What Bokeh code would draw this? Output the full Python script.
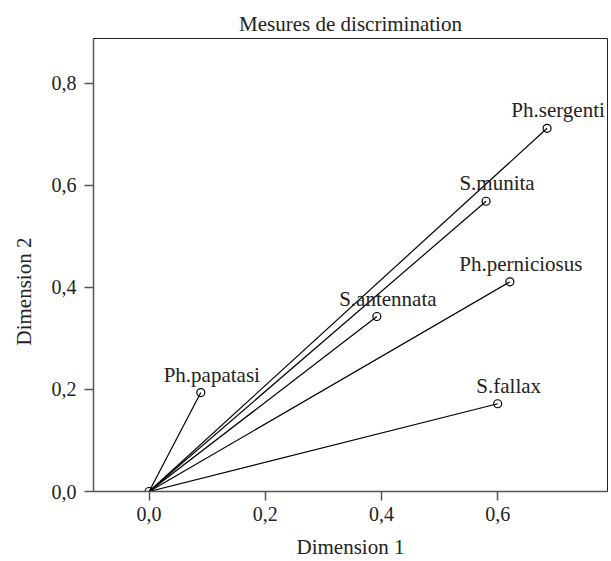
from bokeh.plotting import figure
from bokeh.models import Range1d, LabelSet, ColumnDataSource, FixedTicker, CustomJSTickFormatter, Title
from bokeh.embed import file_html
from bokeh.resources import INLINE

# ---- data ----
species = ["Ph.papatasi", "Ph.sergenti", "S.munita", "Ph.perniciosus", "S.antennata", "S.fallax"]
dim1 = [0.089, 0.685, 0.580, 0.621, 0.392, 0.600]
dim2 = [0.194, 0.712, 0.569, 0.411, 0.343, 0.172]
origin_x = [0.0]
origin_y = [0.0]
x_ticks = [0.0, 0.2, 0.4, 0.6]
y_ticks = [0.0, 0.2, 0.4, 0.6, 0.8]

FONT = "Liberation Serif"
TXT = "#222222"
AX = "#555555"
BIG = "21px"

src = ColumnDataSource(dict(
    x0=[origin_x[0]] * len(species), y0=[origin_y[0]] * len(species),
    x=dim1, y=dim2, name=species))

p = figure(frame_width=514, frame_height=453,
           min_border_left=93, min_border_top=38, min_border_right=4, min_border_bottom=70,
           x_range=Range1d(-0.0957, 0.789), y_range=Range1d(0.0, 0.888),
           output_backend="svg", toolbar_location=None, background_fill_color="white",
           border_fill_color="white")

p.title.text = "Mesures de discrimination"
p.title.align = "center"
p.title.vertical_align = "top"
p.title.standoff = 2
p.title.text_font = FONT
p.title.text_font_size = BIG
p.title.text_font_style = "normal"
p.title.text_color = TXT

p.grid.visible = False
p.outline_line_color = "#222222"
p.outline_line_width = 1

p.segment(x0="x0", y0="y0", x1="x", y1="y", source=src, line_color="black", line_width=1.2)
p.scatter(x="x", y="y", source=src, size=8, marker="circle", fill_color=None,
          line_color="black", line_width=1.2)
p.scatter(x=origin_x, y=origin_y, size=8, marker="circle", fill_color=None,
          line_color="black", line_width=1.2)

labels = LabelSet(x="x", y="y", text="name", source=src, x_offset=11, y_offset=18,
                  text_align="center", text_baseline="middle",
                  text_font=FONT, text_font_size=BIG, text_color=TXT)
p.add_layout(labels)

fmt = CustomJSTickFormatter(code="return tick.toFixed(1).replace('.', ',');")
for ax, ticks in ((p.xaxis[0], x_ticks), (p.yaxis[0], y_ticks)):
    ax.ticker = FixedTicker(ticks=ticks)
    ax.formatter = fmt
    ax.minor_tick_line_color = None
    ax.major_tick_out = 9
    ax.major_tick_in = 0
    ax.axis_line_color = AX
    ax.axis_line_width = 1.5
    ax.major_tick_line_color = AX
    ax.major_tick_line_width = 1.5
    ax.major_label_text_font = FONT
    ax.major_label_text_font_size = "20px"
    ax.major_label_text_color = TXT

p.xaxis.major_label_standoff = 6
p.yaxis.major_label_standoff = 8
p.xaxis.axis_label = "Dimension 1"
p.xaxis.axis_label_text_font = FONT
p.xaxis.axis_label_text_font_size = BIG
p.xaxis.axis_label_text_font_style = "normal"
p.xaxis.axis_label_text_color = TXT
p.xaxis.axis_label_standoff = 11

ytitle = Title(text="Dimension 2", align="left", offset=146, vertical_align="top",
               standoff=22, text_font=FONT, text_font_size=BIG, text_font_style="normal",
               text_color=TXT)
p.add_layout(ytitle, "left")

open("out.html", "w").write(file_html(p, INLINE))
